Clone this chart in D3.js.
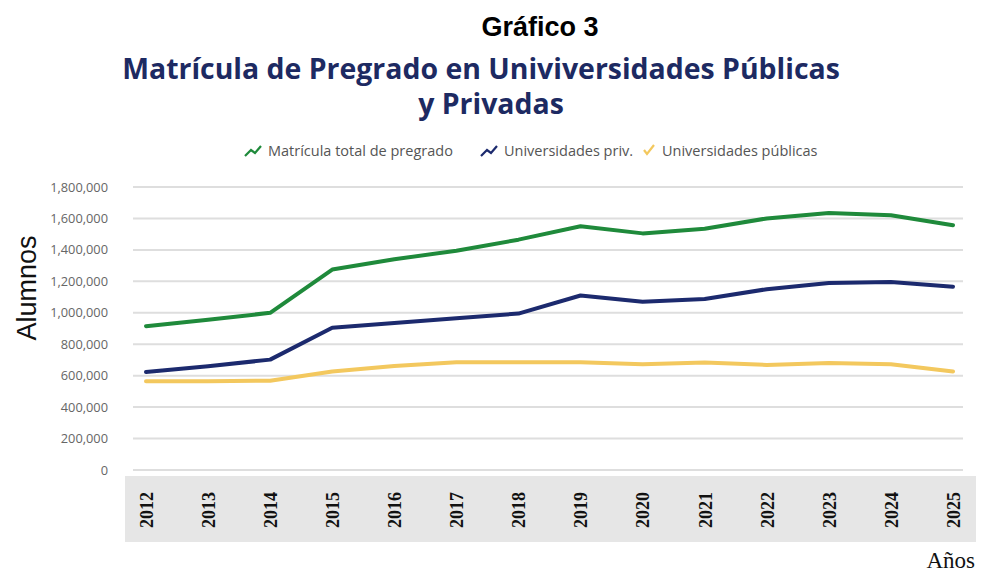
<!DOCTYPE html>
<html>
<head>
<meta charset="utf-8">
<script src="https://cdn.jsdelivr.net/npm/d3@7"></script>
<style>
  body { margin: 0; background: #fff; }
  svg { display: block; }
</style>
</head>
<body>
<div id="chart"></div>
<script>
// data
const years = ["2012", "2013", "2014", "2015", "2016", "2017", "2018", "2019", "2020", "2021", "2022", "2023", "2024", "2025"];
const totalPregrado = [915000, 955000, 1000000, 1275000, 1340000, 1395000, 1465000, 1550000, 1505000, 1535000, 1600000, 1635000, 1620000, 1557000];
const privadas = [623000, 660000, 702000, 905000, 935000, 965000, 995000, 1110000, 1070000, 1088000, 1150000, 1190000, 1195000, 1166000];
const publicas = [565000, 565000, 568000, 627000, 662000, 685000, 685000, 685000, 672000, 683000, 668000, 680000, 672000, 627000];
const yTicks = [0, 200000, 400000, 600000, 800000, 1000000, 1200000, 1400000, 1600000, 1800000];

const series = [
    { name: "Matrícula total de pregrado", values: totalPregrado, color: "#1f8a3b" },
    { name: "Universidades priv.", values: privadas, color: "#1c2a6e" },
    { name: "Universidades públicas", values: publicas, color: "#f3c85e" }
];

const width = 982, height = 573;

const svg = d3.select("#chart").append("svg")
    .attr("width", width)
    .attr("height", height);

// scales
const x = d3.scalePoint()
    .domain(years)
    .range([146, 953]);

const y = d3.scaleLinear()
    .domain([0, 1800000])
    .range([470, 187]);

// headings
svg.append("text")
    .attr("x", 540)
    .attr("y", 36)
    .attr("text-anchor", "middle")
    .style("font-family", "Liberation Sans, Arial, sans-serif")
    .style("font-weight", "bold")
    .style("font-size", "27px")
    .attr("fill", "#000")
    .text("Gráfico 3");

function fitText(sel, target) {
    let w = sel.node().getComputedTextLength();
    let fs = parseFloat(sel.style("font-size"));
    sel.style("font-size", (fs * target / w) + "px");
}

let t1 = svg.append("text")
    .attr("x", 481)
    .attr("y", 79)
    .attr("text-anchor", "middle")
    .style("font-family", "Open Sans, sans-serif")
    .style("font-weight", "bold")
    .style("font-size", "29px")
    .attr("fill", "#1d2a62")
    .text("Matrícula de Pregrado en Univiversidades Públicas");
fitText(t1, 718);

let t2 = svg.append("text")
    .attr("x", 491)
    .attr("y", 114)
    .attr("text-anchor", "middle")
    .style("font-family", "Open Sans, sans-serif")
    .style("font-weight", "bold")
    .style("font-size", t1.style("font-size"))
    .attr("fill", "#1d2a62")
    .text("y Privadas");

// legend
const legendX = [245, 481, 643];
const legend = svg.append("g").attr("class", "legend");
series.forEach((s, i) => {
    let g = legend.append("g")
        .attr("transform", "translate(" + legendX[i] + ",144)");
    if (i < 2) {
        g.append("path")
            .attr("d", "M0,12 L6,6 L10,9 L16,2")
            .attr("fill", "none")
            .attr("stroke", s.color)
            .attr("stroke-width", 2.2);
    } else {
        g.append("path")
            .attr("d", "M1,6 L4,10 L11,1")
            .attr("fill", "none")
            .attr("stroke", s.color)
            .attr("stroke-width", 2.2);
    }
    g.append("text")
        .attr("x", i < 2 ? 23 : 19)
        .attr("y", 12)
        .style("font-family", "Open Sans, sans-serif")
        .style("font-size", "14.5px")
        .attr("fill", "#555")
        .text(s.name);
});

// grid
svg.append("g")
    .attr("class", "grid")
    .selectAll("line")
    .data(yTicks)
    .enter()
    .append("line")
    .attr("x1", 133)
    .attr("x2", 963)
    .attr("y1", d => y(d))
    .attr("y2", d => y(d))
    .attr("stroke", "#dedede")
    .attr("stroke-width", 2);

// y axis labels
const yAxis = d3.axisLeft(y)
    .tickValues(yTicks)
    .tickSize(0)
    .tickPadding(0)
    .tickFormat(d3.format(",.0f"));

svg.append("g")
    .attr("class", "y-axis")
    .attr("transform", "translate(108,0)")
    .call(yAxis)
    .call(g => g.select(".domain").remove())
    .selectAll("text")
    .style("font-family", "Open Sans, sans-serif")
    .style("font-size", "12.8px")
    .attr("fill", "#666");

svg.append("text")
    .attr("transform", "translate(36,288) rotate(-90)")
    .attr("text-anchor", "middle")
    .style("font-family", "Liberation Sans, Arial, sans-serif")
    .style("font-size", "27px")
    .attr("fill", "#111")
    .text("Alumnos");

// x axis band
svg.append("rect")
    .attr("x", 125)
    .attr("y", 476)
    .attr("width", 851)
    .attr("height", 66)
    .attr("fill", "#e6e6e6");

const xAxis = d3.axisBottom(x)
    .tickSize(0)
    .tickPadding(0);

svg.append("g")
    .attr("class", "x-axis")
    .attr("transform", "translate(0,510)")
    .call(xAxis)
    .call(g => g.select(".domain").remove())
    .selectAll("text")
    .attr("transform", "rotate(-90)")
    .attr("x", 0)
    .attr("y", 0)
    .attr("dy", "0.35em")
    .attr("text-anchor", "middle")
    .style("font-family", "Liberation Serif, Times New Roman, serif")
    .style("font-weight", "bold")
    .style("font-size", "18px")
    .attr("fill", "#111");

svg.append("text")
    .attr("x", 975)
    .attr("y", 568)
    .attr("text-anchor", "end")
    .style("font-family", "Liberation Serif, Times New Roman, serif")
    .style("font-size", "23px")
    .attr("fill", "#111")
    .text("Años");

// lines
const line = d3.line()
    .x((d, i) => x(years[i]))
    .y(d => y(d));

svg.append("g")
    .attr("class", "lines")
    .selectAll("path")
    .data(series.slice().reverse())
    .enter()
    .append("path")
    .attr("d", d => line(d.values))
    .attr("fill", "none")
    .attr("stroke", d => d.color)
    .attr("stroke-width", 4)
    .attr("stroke-linejoin", "round")
    .attr("stroke-linecap", "round");
</script>
</body>
</html>
